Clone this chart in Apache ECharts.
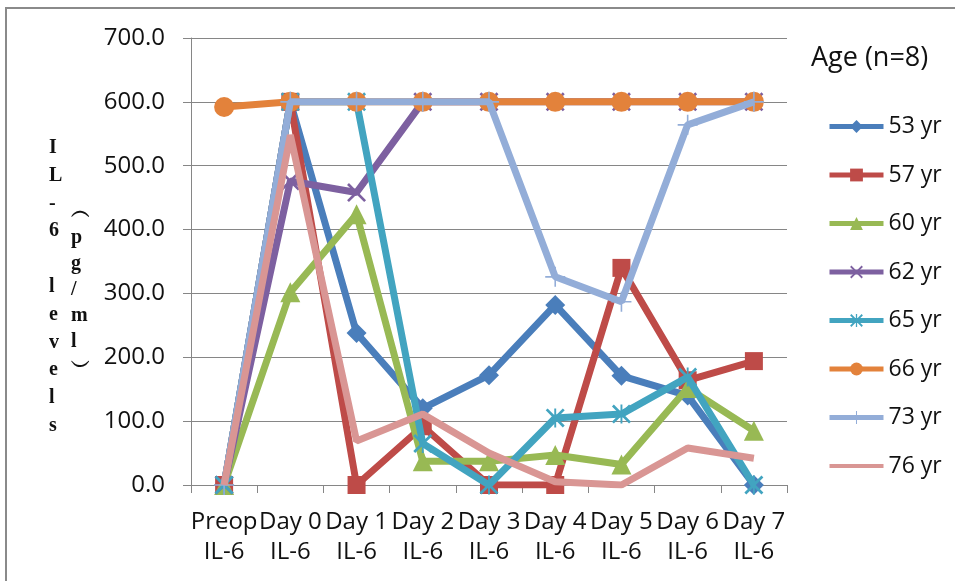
<!DOCTYPE html>
<html><head><meta charset="utf-8">
<script src="https://cdn.jsdelivr.net/npm/echarts@6/dist/echarts.min.js"></script>
<style>html,body{margin:0;padding:0;background:#fff}#c{width:955px;height:581px}</style>
</head><body><div id="c"></div>
<script>
var categories = ["Preop\nIL-6","Day 0\nIL-6","Day 1\nIL-6","Day 2\nIL-6","Day 3\nIL-6","Day 4\nIL-6","Day 5\nIL-6","Day 6\nIL-6","Day 7\nIL-6"];
var seriesNames = ["53 yr","57 yr","60 yr","62 yr","65 yr","66 yr","73 yr","76 yr"];
var age53 = [0, 600, 238, 120, 172, 282, 171, 140, 0];
var age57 = [0, 600, 0, 92, 0, 0, 340, 164, 194];
var age60 = [0, 302, 424, 37, 37, 47, 32, 152, 85];
var age62 = [0, 476, 458, 600, 600, 600, 600, 600, 600];
var age65 = [0, 600, 600, 65, 0, 105, 111, 169, 0];
var age66 = [592, 600, 600, 600, 600, 600, 600, 600, 600];
var age73 = [0, 600, 600, 600, 600, 326, 287, 564, 600];
var age76 = [0, 548, 69, 111, 50, 5, 0, 58, 42];
var yTicks = [0, 100, 200, 300, 400, 500, 600, 700];

var colors = ["#4A7EBB","#BE4B48","#98B954","#7D60A0","#42A4C0","#E3823B","#93ADD8","#D99694"];
var X = 'path://M0,1 L1,0 L5,4 L9,0 L10,1 L6,5 L10,9 L9,10 L5,6 L1,10 L0,9 L4,5 Z';
var AST = 'path://M0,1 L1,0 L5,4 L9,0 L10,1 L6,5 L10,9 L9,10 L5,6 L1,10 L0,9 L4,5 Z M4.5,0 H5.5 V10 H4.5 Z';
var PLUS = 'path://M4.6,0 H5.4 V4.6 H10 V5.4 H5.4 V10 H4.6 V5.4 H0 V4.6 H4.6 Z';
var LINEICON = 'path://M0,0 H54 V4 H0 Z';
var symbols = ['diamond','rect','triangle',X,AST,'circle',PLUS,'none'];
var sizes = [20,18,20,19,19,20,20,0];
var allData = [age53,age57,age60,age62,age65,age66,age73,age76];

var series = seriesNames.map(function(n,i){
  return {
    name:n, type:'line', data:allData[i],
    symbol:symbols[i], symbolSize:sizes[i], showSymbol: symbols[i]!=='none',
    lineStyle:{width:7,color:colors[i],type:'solid'},
    itemStyle:{color:colors[i]},
    z: 2+i
  };
});
var legendData = seriesNames.map(function(n,i){
  return i===7 ? {name:n, icon:LINEICON, itemStyle:{color:colors[i]}} : {name:n};
});

var chart = echarts.init(document.getElementById('c'));
chart.setOption({
  animation:false,
  backgroundColor:'#fff',
  color:colors,
  grid:{left:191,right:168,top:38,bottom:96,containLabel:false},
  xAxis:{type:'category',data:categories,boundaryGap:true,
    axisLine:{lineStyle:{color:'#868686',width:1}},
    axisTick:{show:true,interval:0,length:8,lineStyle:{color:'#868686'}},
    axisLabel:{interval:0,color:'#111',fontFamily:'Open Sans',fontSize:24,lineHeight:30,margin:22}
  },
  yAxis:{type:'value',min:0,max:700,interval:100,
    axisLine:{show:true,lineStyle:{color:'#868686',width:1}},
    axisTick:{show:true,length:8,lineStyle:{color:'#868686'}},
    splitLine:{lineStyle:{color:'#868686',width:1}},
    axisLabel:{color:'#111',fontFamily:'Open Sans',fontSize:24,margin:26,formatter:function(v){return v.toFixed(1);}}
  },
  legend:{orient:'vertical',left:827,top:115,padding:0,itemWidth:54,itemHeight:16,itemGap:25.5,
    lineStyle:{width:5},
    textStyle:{fontFamily:'Open Sans',fontSize:23,color:'#111'},data:legendData},
  title:{text:'Age (n=8)',left:806,top:40,textStyle:{fontFamily:'Open Sans',fontSize:27,fontWeight:'normal',color:'#111'}},
  graphic:[
    {type:'rect',shape:{x:6,y:8,width:1000,height:600},style:{fill:'none',stroke:'#8a8a8a',lineWidth:2},z:-1},
    {type:'text',left:49,top:134,style:{text:'I\nL\n-\n6\n \nl\ne\nv\ne\nl\ns',fontFamily:'Liberation Serif',fontWeight:'bold',fontSize:20,lineHeight:27.8,align:'center',fill:'#111'}},
    {type:'text',left:71,top:199,style:{text:'︵\np\ng\n/\nm\nl\n︶',fontFamily:'Liberation Serif',fontWeight:'bold',fontSize:20,lineHeight:26,align:'center',fill:'#111'}}
  ],
  series:series
});
</script></body></html>
